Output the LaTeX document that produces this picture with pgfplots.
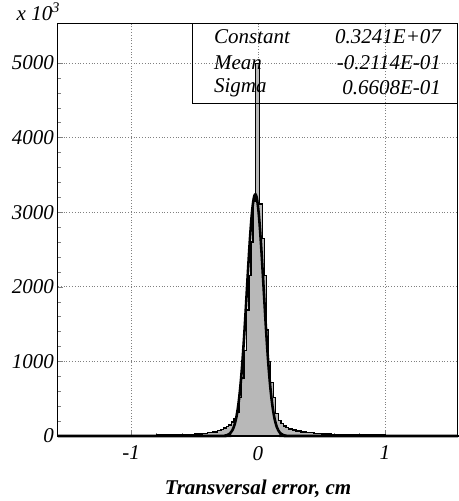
\documentclass[border=0pt]{standalone}
\usepackage{fontspec}
\setmainfont{Liberation Serif}
\usepackage{pgfplots}
\pgfplotsset{compat=1.18}

\begin{document}
\begin{tikzpicture}
\begin{axis}[
  name=ax,
  width=200pt, height=206.5pt, scale only axis,
  xmin=-1.575, xmax=1.575, ymin=0, ymax=5536,
  xtick={-1,0,1}, ytick={0,1000,...,5000},
  minor x tick num=4, minor y tick num=4,
  tick align=inside, tick pos=left,
  major tick length=2.5pt, minor tick length=1.5pt,
  grid=major, major grid style={densely dotted, gray, line width=0.4pt},
  axis line style={line width=0.5pt},
  scaled y ticks=false,
  /pgf/number format/1000 sep={},
  /pgf/number format/assume math mode=true,
  ticklabel style={font=\fontsize{10.5}{12}\selectfont\itshape},
  xticklabel style={yshift=-1.5pt},
  yticklabel style={xshift=1.5pt},
  xlabel={\bfseries\itshape Transversal error, cm},
  xlabel style={font=\fontsize{10.5}{12}\selectfont, yshift=-3pt},
  clip=false,
]
% histogram (left bin edges, counts / 1000)
\addplot[const plot mark left, draw=black, line width=0.7pt, fill=black!28] coordinates {
  (-1.575,4) (-1.30,6) (-1.00,8) (-0.80,11) (-0.68,15) (-0.58,20) (-0.50,27)
  (-0.44,35) (-0.40,44) (-0.36,56) (-0.32,72) (-0.29,88) (-0.27,105)
  (-0.25,125) (-0.23,150) (-0.21,185) (-0.19,230) (-0.17,320) (-0.15,520)
  (-0.13,780) (-0.11,1150) (-0.09,1690) (-0.07,2150) (-0.056,2600)
  (-0.04,3150) (-0.022,4990) (0.012,3110) (0.034,2650) (0.05,2150)
  (0.066,1420) (0.082,1000) (0.098,720) (0.12,520) (0.14,300) (0.16,210)
  (0.18,165) (0.20,135) (0.22,112) (0.24,95) (0.27,80) (0.30,66) (0.34,55)
  (0.38,45) (0.44,36) (0.50,28) (0.58,21) (0.68,15) (0.80,11) (1.00,8)
  (1.30,6) (1.575,6)} \closedcycle;
% gaussian fit
\addplot[black, line width=1.3pt, smooth] coordinates {
  (-1.575,0) (-0.30,0.4) (-0.26,4.7) (-0.24,13.4) (-0.22,34.9) (-0.20,83.0)
  (-0.19,123.6) (-0.18,180.0) (-0.17,255.9) (-0.16,355.9) (-0.15,483.6)
  (-0.14,642.0) (-0.13,833.6) (-0.12,1057.6) (-0.11,1311) (-0.10,1589)
  (-0.09,1882) (-0.08,2179) (-0.07,2465) (-0.06,2725) (-0.05,2945)
  (-0.04,3111) (-0.03,3212) (-0.02,3240) (-0.01,3196) (0.00,3080)
  (0.01,2901) (0.02,2671) (0.03,2404) (0.04,2114) (0.05,1817) (0.06,1526)
  (0.07,1253) (0.08,1005) (0.09,788.6) (0.10,604) (0.11,452.8) (0.12,332)
  (0.13,237.3) (0.14,166) (0.15,113.5) (0.16,75.8) (0.17,49.5) (0.18,31.6)
  (0.20,12.0) (0.22,4.2) (0.26,0.4) (1.575,0)};
% statistics box
\draw[line width=0.5pt] (rel axis cs:0.3375,1) -- (rel axis cs:0.3375,0.804) -- (rel axis cs:1,0.804);
\begin{scope}[every node/.style={font=\fontsize{10.5}{12}\selectfont\itshape}]
\node[anchor=west] at (rel axis cs:0.3725,0.966) {Constant};
\node[anchor=west] at (rel axis cs:0.3725,0.903) {Mean};
\node[anchor=west] at (rel axis cs:0.3725,0.843) {Sigma};
\node[anchor=east] at (rel axis cs:0.975,0.966) {0.3241E+07};
\node[anchor=east] at (rel axis cs:0.975,0.903) {-0.2114E-01};
\node[anchor=east] at (rel axis cs:0.975,0.843) {0.6608E-01};
\end{scope}
\node[anchor=base east, inner sep=0pt, font=\fontsize{10.5}{12}\selectfont\itshape]
  at ([xshift=1.5pt, yshift=1.5pt]rel axis cs:0,1) {x 10\textsuperscript{3}};
\end{axis}
\pgfresetboundingbox
\path ([xshift=-29pt,yshift=-32.5pt]ax.south west) rectangle ([xshift=0.3pt,yshift=11.5pt]ax.north east);
\end{tikzpicture}
\end{document}
